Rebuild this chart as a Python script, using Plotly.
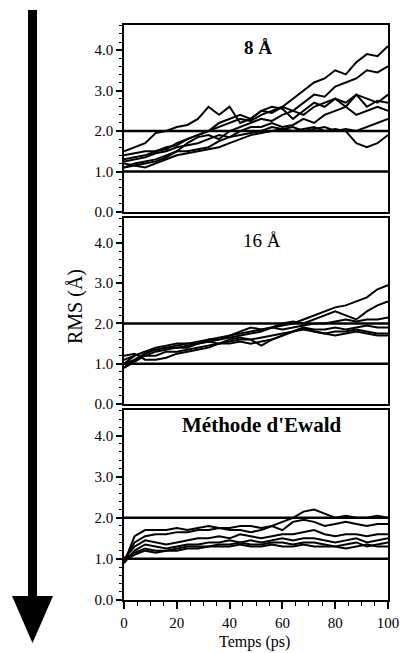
import plotly.graph_objects as go

# ---------------- data ----------------
time_ps = [0, 4, 8, 12, 16, 20, 24, 28, 32, 36, 40, 44, 48, 52, 56, 60, 64, 68, 72, 76, 80, 84, 88, 92, 96, 100]

panel_titles = ["<b>8 Å</b>", "16 Å", "<b>Méthode d'Ewald</b>"]
ref_levels = [1.0, 2.0]
y_tick_vals = [0, 1, 2, 3, 4]
y_tick_text = ["0.0", "1.0", "2.0", "3.0", "4.0"]
x_tick_vals = [0, 20, 40, 60, 80, 100]
x_tick_text = ["0", "20", "40", "60", "80", "100"]

rms_8A = [
    [1.4, 1.45, 1.5, 1.5, 1.55, 1.7, 1.8, 1.9, 2.0, 2.1, 2.2, 2.3, 2.25, 2.4, 2.5, 2.6, 2.8, 3.0, 3.2, 3.3, 3.5, 3.4, 3.7, 3.9, 3.85, 4.1],
    [1.3, 1.35, 1.4, 1.5, 1.6, 1.65, 1.8, 1.9, 2.0, 2.2, 2.3, 2.4, 2.3, 2.5, 2.45, 2.6, 2.5, 2.7, 2.9, 2.85, 3.1, 3.2, 3.3, 3.5, 3.45, 3.6],
    [1.5, 1.6, 1.7, 1.95, 2.0, 2.1, 2.15, 2.3, 2.6, 2.4, 2.6, 2.2, 2.3, 2.5, 2.6, 2.55, 2.3, 2.5, 2.7, 2.6, 2.8, 2.7, 2.9, 2.6, 2.75, 2.7],
    [1.2, 1.15, 1.2, 1.25, 1.35, 1.5, 1.5, 1.55, 1.6, 1.75, 1.85, 1.9, 1.95, 2.0, 2.1, 2.05, 2.0, 2.05, 2.1, 2.0, 2.05, 2.0, 1.7, 1.6, 1.7, 1.9],
    [1.1, 1.2, 1.25, 1.3, 1.4, 1.5, 1.7, 1.85, 1.9, 1.8, 2.0, 2.1, 2.2, 2.3, 2.25, 2.4, 2.5, 2.4, 2.6, 2.7, 2.8, 2.6, 2.9, 2.8, 2.7, 2.9],
    [1.25, 1.3, 1.35, 1.45, 1.5, 1.6, 1.65, 1.7, 1.8, 1.9, 1.85, 2.0, 2.1, 2.1, 2.2, 2.1, 2.15, 2.3, 2.2, 2.4, 2.5, 2.6, 2.4, 2.5, 2.6, 2.5],
    [1.1, 1.15, 1.1, 1.2, 1.3, 1.4, 1.45, 1.5, 1.55, 1.6, 1.7, 1.8, 1.9, 1.95, 2.0, 2.05, 2.1, 2.0, 2.05, 2.1, 2.0, 2.05, 2.0, 2.1, 2.2, 2.3],
]

rms_16A = [
    [1.0, 1.2, 1.3, 1.4, 1.45, 1.5, 1.5, 1.55, 1.6, 1.65, 1.7, 1.75, 1.8, 1.85, 1.9, 1.95, 2.0, 2.1, 2.2, 2.3, 2.4, 2.45, 2.55, 2.65, 2.85, 2.95],
    [0.9, 1.1, 1.25, 1.35, 1.4, 1.45, 1.5, 1.5, 1.6, 1.6, 1.7, 1.8, 1.9, 1.85, 1.9, 2.0, 2.05, 2.0, 2.1, 2.2, 2.3, 2.2, 2.1, 2.3, 2.45, 2.55],
    [1.1, 1.2, 1.3, 1.35, 1.4, 1.4, 1.45, 1.5, 1.55, 1.6, 1.65, 1.7, 1.75, 1.8, 1.9, 1.85, 1.9, 1.95, 2.0, 2.0, 2.05, 2.1, 2.05, 2.1, 2.1, 2.15],
    [1.0, 1.1, 1.2, 1.2, 1.3, 1.3, 1.35, 1.4, 1.45, 1.5, 1.55, 1.6, 1.6, 1.65, 1.7, 1.75, 1.8, 1.9, 1.85, 1.85, 1.9, 1.85, 1.9, 1.95, 1.9, 1.9],
    [1.2, 1.25, 1.1, 1.1, 1.15, 1.25, 1.3, 1.35, 1.4, 1.5, 1.5, 1.55, 1.5, 1.55, 1.6, 1.7, 1.8, 1.85, 1.8, 1.75, 1.8, 1.8, 1.85, 1.8, 1.75, 1.75],
    [0.9, 1.05, 1.2, 1.3, 1.35, 1.4, 1.4, 1.5, 1.55, 1.5, 1.6, 1.65, 1.6, 1.45, 1.6, 1.7, 1.8, 1.9, 1.8, 1.75, 1.7, 1.75, 1.8, 1.75, 1.7, 1.7],
]

rms_ewald = [
    [0.9, 1.55, 1.7, 1.7, 1.7, 1.75, 1.7, 1.75, 1.8, 1.75, 1.75, 1.8, 1.8, 1.75, 1.8, 1.9, 2.0, 2.15, 2.2, 2.1, 2.0, 2.05, 2.0, 2.0, 2.05, 2.0],
    [0.95, 1.4, 1.55, 1.6, 1.6, 1.65, 1.65, 1.7, 1.7, 1.75, 1.7, 1.7, 1.65, 1.7, 1.8, 1.7, 1.9, 1.95, 1.9, 1.8, 1.85, 1.9, 1.85, 1.8, 1.85, 1.85],
    [1.0, 1.3, 1.45, 1.4, 1.35, 1.4, 1.45, 1.5, 1.5, 1.55, 1.5, 1.6, 1.55, 1.5, 1.55, 1.6, 1.6, 1.65, 1.7, 1.6, 1.55, 1.6, 1.6, 1.55, 1.6, 1.6],
    [0.9, 1.2, 1.35, 1.3, 1.25, 1.3, 1.35, 1.35, 1.4, 1.4, 1.45, 1.4, 1.45, 1.4, 1.45, 1.5, 1.45, 1.5, 1.5, 1.45, 1.4, 1.45, 1.5, 1.4, 1.45, 1.5],
    [1.0, 1.15, 1.25, 1.2, 1.2, 1.25, 1.3, 1.3, 1.3, 1.35, 1.35, 1.4, 1.35, 1.35, 1.4, 1.4, 1.35, 1.4, 1.4, 1.35, 1.3, 1.35, 1.4, 1.3, 1.35, 1.4],
    [0.95, 1.1, 1.2, 1.15, 1.2, 1.2, 1.25, 1.25, 1.3, 1.3, 1.3, 1.35, 1.3, 1.3, 1.35, 1.3, 1.3, 1.35, 1.3, 1.3, 1.3, 1.25, 1.3, 1.35, 1.3, 1.3],
]

panels = [rms_8A, rms_16A, rms_ewald]

# ---------------- figure ----------------
W, H = 400, 653
FONT = "Liberation Serif"


def px(x):
    return x / W


def py(y):
    return 1 - y / H


x_dom = [px(124), px(388)]
y_doms = [[py(212), py(25)], [py(404), py(218)], [py(600), py(410)]]

fig = go.Figure()

for i, series in enumerate(panels):
    xa = "x" if i == 0 else f"x{i+1}"
    ya = "y" if i == 0 else f"y{i+1}"
    for s in series:
        fig.add_trace(go.Scatter(x=time_ps, y=s, mode="lines", xaxis=xa, yaxis=ya,
                                 line=dict(color="black", width=2), showlegend=False,
                                 hoverinfo="skip"))
    for lvl in ref_levels:
        fig.add_shape(type="line", xref=f"{xa} domain", yref=ya, x0=0, x1=1, y0=lvl, y1=lvl,
                      line=dict(color="black", width=2.5))
    is_bottom = (i == 2)
    xkey = "xaxis" if i == 0 else f"xaxis{i+1}"
    ykey = "yaxis" if i == 0 else f"yaxis{i+1}"
    xaxis_cfg = dict(domain=x_dom, anchor=ya, range=[0, 100], showgrid=False, zeroline=False,
                     showline=True, linecolor="black", linewidth=1.5, mirror=True, automargin=False,
                     tickvals=x_tick_vals, ticktext=x_tick_text, showticklabels=is_bottom,
                     tickfont=dict(family=FONT, size=15, color="black"))
    if is_bottom:
        xaxis_cfg.update(ticks="outside", ticklen=7, tickwidth=1.5, tickcolor="black",
                         ticklabelstandoff=1,
                         minor=dict(ticks="outside", ticklen=4, dtick=5, tickcolor="black", tickwidth=1.2))
    else:
        xaxis_cfg.update(ticks="")
    fig.update_layout(**{
        xkey: xaxis_cfg,
        ykey: dict(domain=y_doms[i], anchor=xa, range=[0, 4.62], showgrid=False, zeroline=False,
                   showline=True, linecolor="black", linewidth=1.5, mirror=True, automargin=False,
                   ticks="outside", ticklen=6, tickwidth=1.5, tickcolor="black",
                   tickvals=y_tick_vals, ticktext=y_tick_text,
                   minor=dict(ticks="outside", ticklen=3, dtick=0.2, tickcolor="black", tickwidth=1.2),
                   tickfont=dict(family=FONT, size=15, color="black"), ticklabelstandoff=0),
    })

# panel titles
title_pos = [(258, 47), (262, 240), (262, 425)]
title_size = [19, 19, 21]
for t, (tx, ty), fs in zip(panel_titles, title_pos, title_size):
    fig.add_annotation(text=t, xref="paper", yref="paper", x=px(tx), y=py(ty),
                       xanchor="center", yanchor="middle",
                       showarrow=False, font=dict(family=FONT, size=fs, color="black"))

# axis titles
fig.add_annotation(text="RMS (Å)", xref="paper", yref="paper", x=px(75), y=py(307),
                   xanchor="center", yanchor="middle",
                   textangle=-90, showarrow=False, font=dict(family=FONT, size=20, color="black"))
fig.add_annotation(text="Temps (ps)", xref="paper", yref="paper", x=px(255), y=py(642),
                   xanchor="center", yanchor="middle",
                   showarrow=False, font=dict(family=FONT, size=16, color="black"))

# big arrow on the left
fig.add_shape(type="rect", xref="paper", yref="paper", x0=px(28), x1=px(37), y0=py(600), y1=py(10),
              fillcolor="black", line=dict(width=0))
fig.add_shape(type="path", xref="paper", yref="paper",
              path=f"M {px(12)} {py(596)} L {px(53)} {py(596)} L {px(32.5)} {py(643)} Z",
              fillcolor="black", line=dict(width=0))

fig.update_layout(width=W, height=H, margin=dict(l=0, r=0, t=0, b=0, autoexpand=False),
                  paper_bgcolor="white", plot_bgcolor="white",
                  font=dict(family=FONT, color="black"))

fig.write_html("out.html")
